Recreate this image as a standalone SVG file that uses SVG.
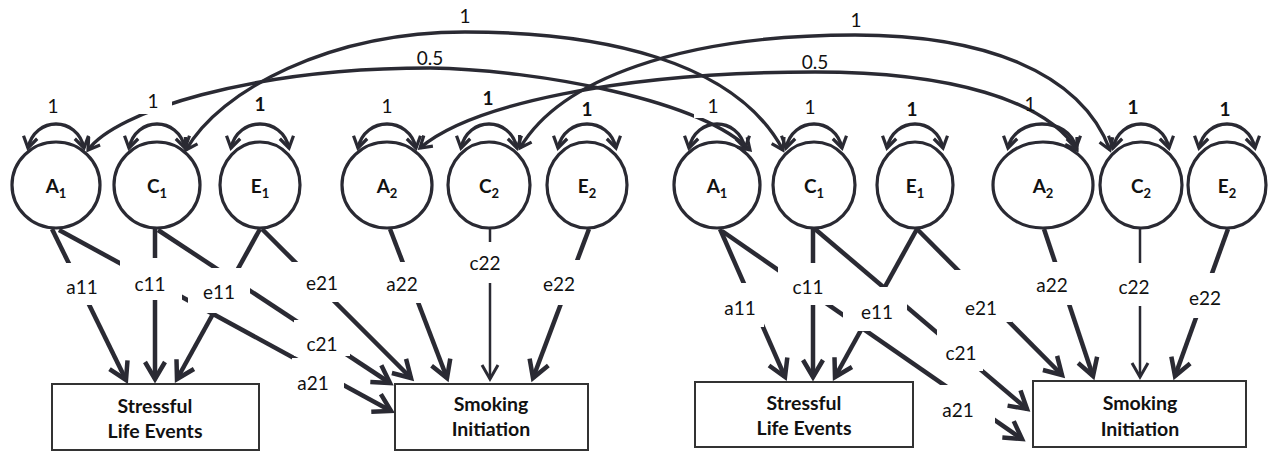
<svg xmlns="http://www.w3.org/2000/svg" width="1270" height="452" viewBox="0 0 1270 452">
  <defs>
    <style>
      .node ellipse { fill: #fff; stroke: #2a2a33; stroke-width: 3.2; }
      .box rect { fill: #fff; stroke: #333; stroke-width: 2; }
      .nt { font-family: Lato, "Open Sans", sans-serif; font-size: 19px; font-weight: bold; fill: #111; text-anchor: middle; }
      .nt tspan.sub { font-size: 13px; }
      .bt { font-family: Lato, "Open Sans", sans-serif; font-size: 19.5px; font-weight: bold; fill: #111; text-anchor: middle; }
      .ln { fill: none; stroke: #2a2a33; stroke-width: 4.5; marker-end: url(#ah); }
      .ln.thin { stroke-width: 2.5; marker-end: url(#at); }
      .arc { fill: none; stroke: #2a2a33; stroke-width: 3.4; marker-start: url(#as); marker-end: url(#as); }
      .bg { fill: #fff; }
      .lbl { font-family: Lato, "Open Sans", sans-serif; font-size: 19px; fill: #111; text-anchor: middle; }
      .lbl.b { font-weight: bold; }
    </style>
    <marker id="ah" viewBox="-20 -12 24 24" markerWidth="24" markerHeight="24" markerUnits="userSpaceOnUse" refX="0" refY="0" orient="auto" overflow="visible">
      <path d="M-17,-10 L0,0 L-17,10" fill="none" stroke="#2a2a33" stroke-width="4.5"/>
    </marker>
    <marker id="at" viewBox="-20 -12 24 24" markerWidth="24" markerHeight="24" markerUnits="userSpaceOnUse" refX="0" refY="0" orient="auto" overflow="visible">
      <path d="M-14,-8 L0,0 L-14,8" fill="none" stroke="#2a2a33" stroke-width="3"/>
    </marker>
    <marker id="as" viewBox="-16 -10 20 20" markerWidth="20" markerHeight="20" markerUnits="userSpaceOnUse" refX="0" refY="0" orient="auto-start-reverse" overflow="visible">
      <path d="M-11,-7 L0,0 L-11,7" fill="none" stroke="#2a2a33" stroke-width="3.2"/>
    </marker>
  </defs>

  <rect width="1270" height="452" fill="#fff"/>

  <!-- latent factors, first pair -->
  <g id="L-A1" class="node"><ellipse cx="56" cy="185" rx="44" ry="43"/><text class="nt" x="56" y="193">A<tspan class="sub" dy="5">1</tspan></text></g>
  <g id="L-C1" class="node"><ellipse cx="157" cy="185" rx="43" ry="43"/><text class="nt" x="157" y="193">C<tspan class="sub" dy="5">1</tspan></text></g>
  <g id="L-E1" class="node"><ellipse cx="260" cy="185" rx="40" ry="43"/><text class="nt" x="260" y="193">E<tspan class="sub" dy="5">1</tspan></text></g>
  <g id="L-A2" class="node"><ellipse cx="387" cy="185" rx="45" ry="43"/><text class="nt" x="387" y="193">A<tspan class="sub" dy="5">2</tspan></text></g>
  <g id="L-C2" class="node"><ellipse cx="489" cy="185" rx="41" ry="43"/><text class="nt" x="489" y="193">C<tspan class="sub" dy="5">2</tspan></text></g>
  <g id="L-E2" class="node"><ellipse cx="587" cy="185" rx="40" ry="43"/><text class="nt" x="587" y="193">E<tspan class="sub" dy="5">2</tspan></text></g>

  <!-- latent factors, second pair -->
  <g id="R-A1" class="node"><ellipse cx="717" cy="185" rx="43" ry="43"/><text class="nt" x="717" y="193">A<tspan class="sub" dy="5">1</tspan></text></g>
  <g id="R-C1" class="node"><ellipse cx="814" cy="185" rx="41" ry="43"/><text class="nt" x="814" y="193">C<tspan class="sub" dy="5">1</tspan></text></g>
  <g id="R-E1" class="node"><ellipse cx="915" cy="185" rx="38" ry="43"/><text class="nt" x="915" y="193">E<tspan class="sub" dy="5">1</tspan></text></g>
  <g id="R-A2" class="node"><ellipse cx="1043" cy="185" rx="50" ry="43"/><text class="nt" x="1043" y="193">A<tspan class="sub" dy="5">2</tspan></text></g>
  <g id="R-C2" class="node"><ellipse cx="1141" cy="185" rx="41" ry="43"/><text class="nt" x="1141" y="193">C<tspan class="sub" dy="5">2</tspan></text></g>
  <g id="R-E2" class="node"><ellipse cx="1227" cy="185" rx="39" ry="43"/><text class="nt" x="1227" y="193">E<tspan class="sub" dy="5">2</tspan></text></g>

  <!-- observed variables -->
  <g id="L-SLE" class="box"><rect x="52" y="384" width="207" height="66"/><text class="bt" x="155" y="413">Stressful</text><text class="bt" x="155" y="438">Life Events</text></g>
  <g id="L-SI" class="box"><rect x="395" y="384" width="193" height="66"/><text class="bt" x="491" y="411">Smoking</text><text class="bt" x="491" y="436">Initiation</text></g>
  <g id="R-SLE" class="box"><rect x="695" y="382" width="218" height="65"/><text class="bt" x="804" y="410">Stressful</text><text class="bt" x="804" y="435">Life Events</text></g>
  <g id="R-SI" class="box"><rect x="1033" y="381" width="213" height="66"/><text class="bt" x="1140" y="410">Smoking</text><text class="bt" x="1140" y="436">Initiation</text></g>

  <g id="connectors">
    <!-- variance loops -->
    <path class="arc" d="M28,148 C35,116 77,116 84,148"/>
    <path class="arc" d="M129,148 C136,116 178,116 185,148"/>
    <path class="arc" d="M231,148 C238,116 282,116 289,148"/>
    <path class="arc" d="M358,148 C365,116 409,116 416,148"/>
    <path class="arc" d="M461,148 C468,116 510,116 517,148"/>
    <path class="arc" d="M558,148 C565,116 609,116 616,148"/>
    <path class="arc" d="M689,148 C696,116 738,116 745,148"/>
    <path class="arc" d="M786,148 C793,116 835,116 842,148"/>
    <path class="arc" d="M887,148 C894,116 936,116 943,148"/>
    <path class="arc" d="M1008,148 C1015,116 1069,116 1076,148"/>
    <path class="arc" d="M1113,148 C1120,116 1162,116 1169,148"/>
    <path class="arc" d="M1199,148 C1206,116 1248,116 1255,148"/>

    <!-- cross-twin covariances -->
    <path class="arc" d="M186,150 C220,90 330,32 465,32 C600,32 735,60 783,150"/>
    <path class="arc" d="M88,150 C115,112 250,68 430,68 C540,70 700,100 750,150"/>
    <path class="arc" d="M420,148 C470,105 620,72 815,72 C950,72 1045,100 1077,150"/>
    <path class="arc" d="M520,148 C560,80 680,35 855,35 C980,35 1080,70 1110,150"/>

    <!-- paths, first pair -->
    <line class="ln" x1="52" y1="229" x2="126" y2="380"/>
    <line class="ln" x1="59" y1="230" x2="391" y2="411"/>
    <line class="ln" x1="155" y1="229" x2="155" y2="379"/>
    <line class="ln" x1="158" y1="230" x2="390" y2="383"/>
    <line class="ln" x1="260" y1="229" x2="177" y2="379"/>
    <line class="ln" x1="262" y1="229" x2="411" y2="378"/>
    <line class="ln" x1="390" y1="229" x2="447" y2="378"/>
    <line class="ln thin" x1="490" y1="229" x2="490" y2="379"/>
    <line class="ln" x1="589" y1="229" x2="533" y2="378"/>

    <!-- paths, second pair -->
    <line class="ln" x1="720" y1="229" x2="785" y2="377"/>
    <line class="ln" x1="722" y1="231" x2="1022" y2="439"/>
    <line class="ln" x1="813" y1="229" x2="813" y2="377"/>
    <line class="ln" x1="815" y1="229" x2="1027" y2="409"/>
    <line class="ln" x1="917" y1="229" x2="835" y2="377"/>
    <line class="ln" x1="917" y1="229" x2="1062" y2="375"/>
    <line class="ln" x1="1044" y1="229" x2="1093" y2="376"/>
    <line class="ln thin" x1="1140" y1="229" x2="1140" y2="377"/>
    <line class="ln" x1="1228" y1="229" x2="1175" y2="376"/>

    <!-- label backgrounds -->
    <rect class="bg" x="134" y="88" width="38" height="26"/>
    <rect class="bg" x="694" y="94" width="36" height="24"/>
    <rect class="bg" x="58" y="263" width="50" height="42"/>
    <rect class="bg" x="120" y="258" width="62" height="42"/>
    <rect class="bg" x="188" y="268" width="62" height="45"/>
    <rect class="bg" x="292" y="262" width="58" height="40"/>
    <rect class="bg" x="294" y="320" width="56" height="36"/>
    <rect class="bg" x="292" y="358" width="52" height="38"/>
    <rect class="bg" x="382" y="262" width="46" height="41"/>
    <rect class="bg" x="462" y="242" width="50" height="41"/>
    <rect class="bg" x="538" y="260" width="46" height="45"/>
    <rect class="bg" x="718" y="283" width="46" height="44"/>
    <rect class="bg" x="778" y="263" width="60" height="42"/>
    <rect class="bg" x="843" y="287" width="64" height="44"/>
    <rect class="bg" x="952" y="270" width="60" height="52"/>
    <rect class="bg" x="937" y="328" width="46" height="43"/>
    <rect class="bg" x="935" y="385" width="60" height="42"/>
    <rect class="bg" x="1030" y="262" width="46" height="43"/>
    <rect class="bg" x="1110" y="263" width="50" height="43"/>
    <rect class="bg" x="1183" y="273" width="46" height="45"/>

    <!-- covariance and variance labels -->
    <text class="lbl" x="465" y="23">1</text>
    <text class="lbl" x="430" y="65">0.5</text>
    <text class="lbl" x="856" y="27">1</text>
    <text class="lbl" x="815" y="69">0.5</text>
    <text class="lbl" x="53" y="113">1</text>
    <text class="lbl" x="153" y="108">1</text>
    <text class="lbl b" x="260" y="111">1</text>
    <text class="lbl" x="387" y="113">1</text>
    <text class="lbl b" x="488" y="105">1</text>
    <text class="lbl b" x="587" y="116">1</text>
    <text class="lbl" x="713" y="113">1</text>
    <text class="lbl" x="810" y="114">1</text>
    <text class="lbl b" x="912" y="116">1</text>
    <text class="lbl" x="1030" y="111">1</text>
    <text class="lbl b" x="1133" y="114">1</text>
    <text class="lbl b" x="1225" y="116">1</text>

    <!-- path coefficient labels -->
    <text class="lbl" x="82" y="294">a11</text>
    <text class="lbl" x="150" y="291">c11</text>
    <text class="lbl" x="219" y="299">e11</text>
    <text class="lbl" x="322" y="290">e21</text>
    <text class="lbl" x="322" y="351">c21</text>
    <text class="lbl" x="313" y="390">a21</text>
    <text class="lbl" x="402" y="291">a22</text>
    <text class="lbl" x="485" y="270">c22</text>
    <text class="lbl" x="559" y="291">e22</text>
    <text class="lbl" x="740" y="315">a11</text>
    <text class="lbl" x="808" y="294">c11</text>
    <text class="lbl" x="877" y="319">e11</text>
    <text class="lbl" x="981" y="315">e21</text>
    <text class="lbl" x="961" y="360">c21</text>
    <text class="lbl" x="958" y="417">a21</text>
    <text class="lbl" x="1052" y="292">a22</text>
    <text class="lbl" x="1134" y="294">c22</text>
    <text class="lbl" x="1205" y="305">e22</text>
  </g>
</svg>
